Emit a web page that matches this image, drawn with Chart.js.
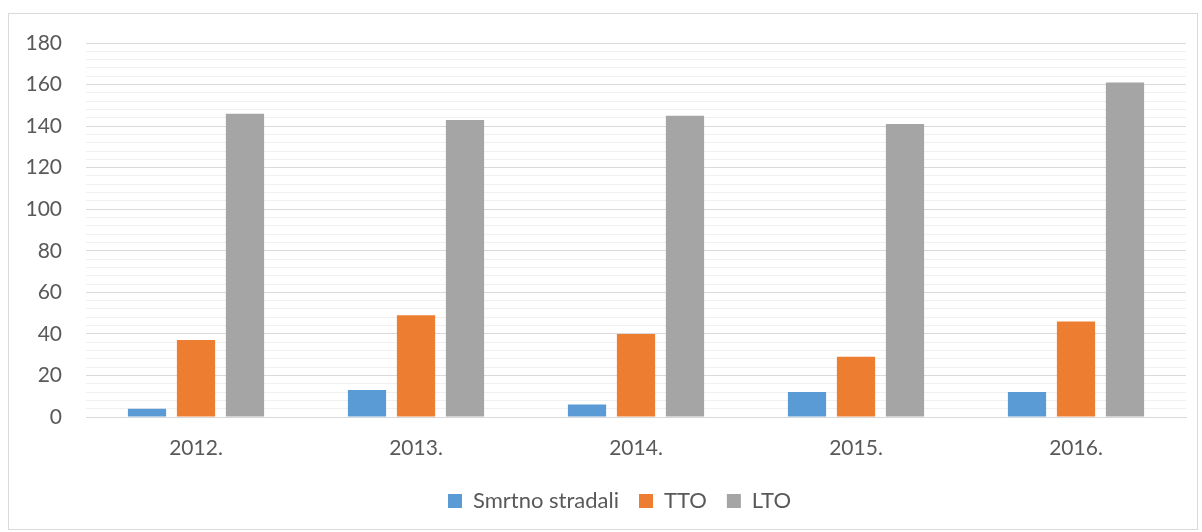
<!DOCTYPE html>
<html><head><meta charset="utf-8">
<script src="https://cdn.jsdelivr.net/npm/chart.js@4"></script>
<style>
html,body{margin:0;padding:0;background:#fff;}
#wrap{position:absolute;left:8px;top:13px;width:1190px;height:517px;border:1px solid #d9d9d9;box-sizing:border-box;}
canvas{display:block;}
</style></head><body>
<div id="wrap"><canvas id="c" width="1188" height="515"></canvas></div>
<script>
const categories = ['2012.', '2013.', '2014.', '2015.', '2016.'];
const smrtnoStradali = [4, 13, 6, 12, 12];
const tto = [37, 49, 40, 29, 46];
const lto = [146, 143, 145, 141, 161];
const seriesNames = ['Smrtno stradali', 'TTO', 'LTO'];
const yMax = 180;

const txt = '#595959';
const font = {family: 'Lato, "Open Sans", sans-serif', size: 21};

const shiftLegend = {
  id: 'shiftLegend',
  afterLayout(chart) {
    if (chart.legend) { chart.legend.left += 22; chart.legend.right += 22; }
  }
};

new Chart(document.getElementById('c'), {
  type: 'bar',
  data: {
    labels: categories,
    datasets: [
      {label: seriesNames[0], data: smrtnoStradali, backgroundColor: '#5B9BD5'},
      {label: seriesNames[1], data: tto, backgroundColor: '#ED7D31'},
      {label: seriesNames[2], data: lto, backgroundColor: '#A5A5A5'}
    ]
  },
  plugins: [shiftLegend],
  options: {
    responsive: false,
    animation: false,
    categoryPercentage: 0.668,
    barPercentage: 0.78,
    layout: {padding: {top: 29, right: 11, bottom: 7, left: 0}},
    plugins: {
      tooltip: {enabled: false},
      legend: {
        position: 'bottom',
        labels: {color: txt, font: {family: font.family, size: 22}, boxWidth: 14, boxHeight: 14, padding: 20}
      }
    },
    scales: {
      x: {
        grid: {display: false},
        border: {color: '#d9d9d9'},
        ticks: {color: txt, font: font, padding: 11},
        afterFit: s => { s.height = 53; }
      },
      y: {
        min: 0, max: yMax,
        border: {display: false},
        grid: {
          drawTicks: false,
          color: ctx => (ctx.tick && ctx.tick.value % 20 === 0) ? '#d9d9d9' : '#f0f0f0',
          lineWidth: 1
        },
        ticks: {
          stepSize: 4,
          autoSkip: false,
          color: txt, font: font, padding: 24,
          callback: v => (v % 20 === 0 ? v : '')
        },
        afterFit: s => { s.width = 77; s.paddingTop = 0; s.paddingBottom = 0; }
      }
    }
  }
});
</script>
</body></html>
